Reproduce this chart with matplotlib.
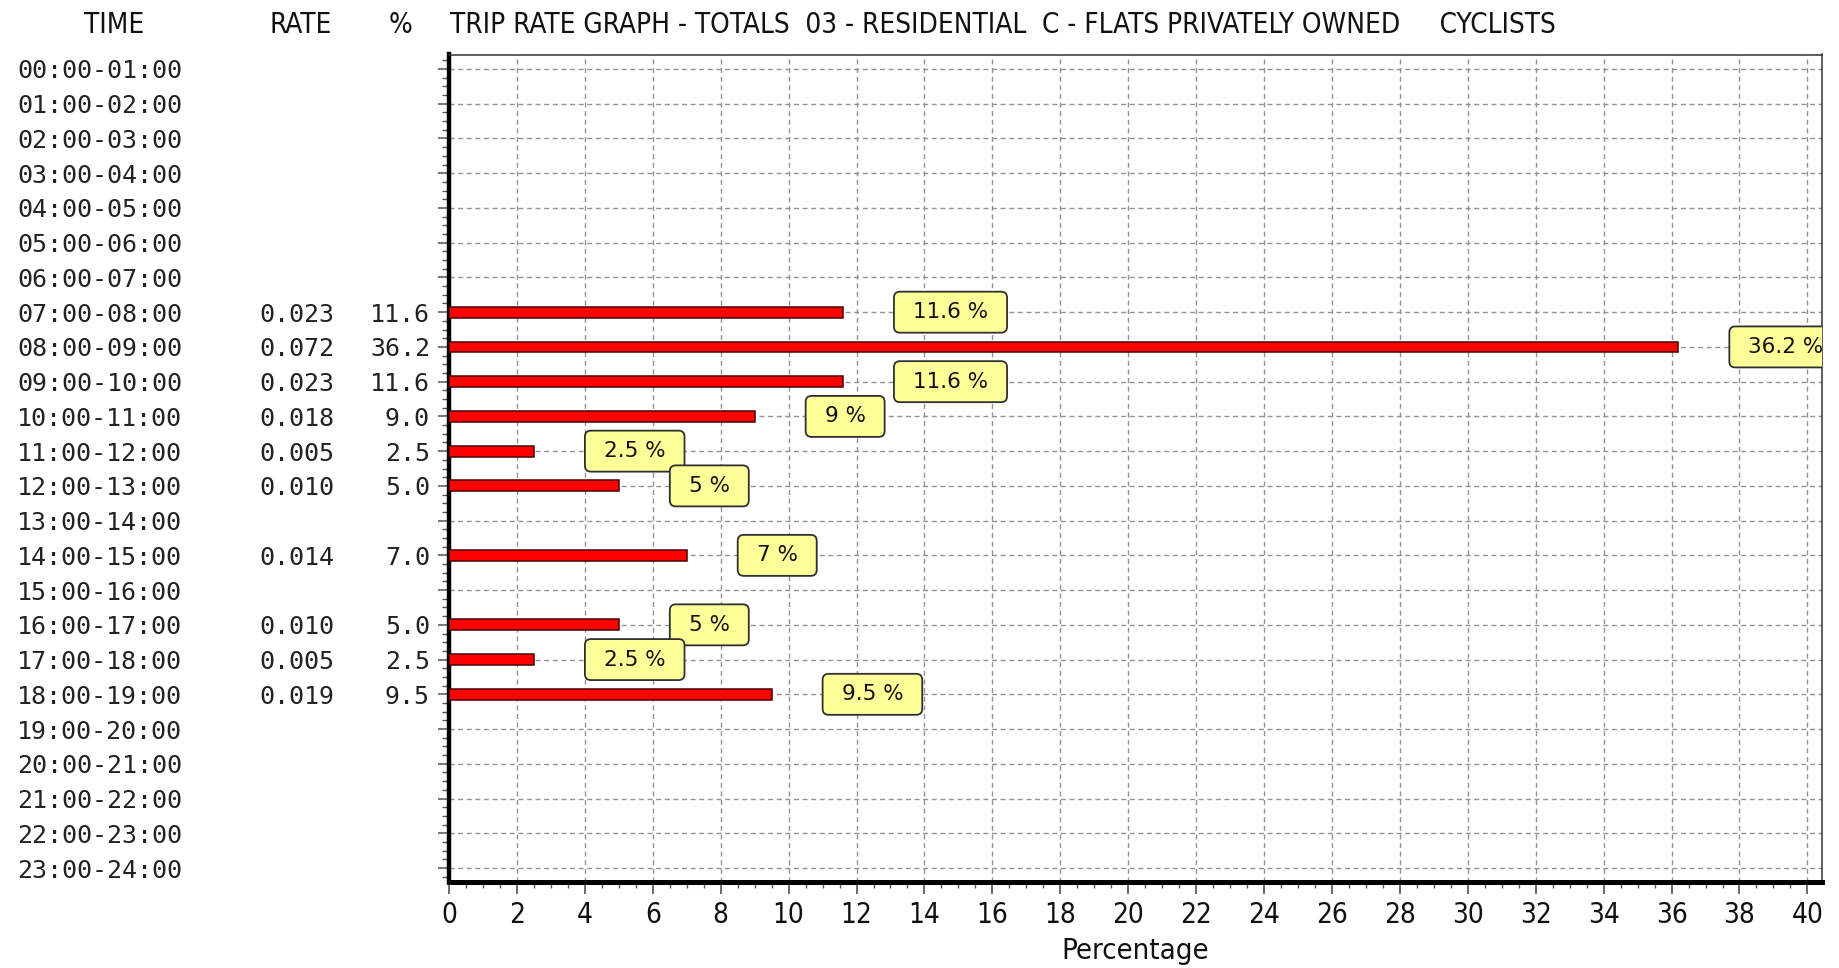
import matplotlib
matplotlib.use("Agg")
import matplotlib.pyplot as plt
from matplotlib import font_manager
from matplotlib.patches import FancyBboxPatch
from matplotlib.transforms import IdentityTransform, ScaledTranslation, blended_transform_factory
from matplotlib.ticker import MultipleLocator

# ---------------- data ----------------
time_labels = ["00:00-01:00", "01:00-02:00", "02:00-03:00", "03:00-04:00",
               "04:00-05:00", "05:00-06:00", "06:00-07:00", "07:00-08:00",
               "08:00-09:00", "09:00-10:00", "10:00-11:00", "11:00-12:00",
               "12:00-13:00", "13:00-14:00", "14:00-15:00", "15:00-16:00",
               "16:00-17:00", "17:00-18:00", "18:00-19:00", "19:00-20:00",
               "20:00-21:00", "21:00-22:00", "22:00-23:00", "23:00-24:00"]
rates = [None, None, None, None, None, None, None, 0.023,
         0.072, 0.023, 0.018, 0.005, 0.010, None, 0.014, None,
         0.010, 0.005, 0.019, None, None, None, None, None]
percents = [None, None, None, None, None, None, None, 11.6,
            36.2, 11.6, 9.0, 2.5, 5.0, None, 7.0, None,
            5.0, 2.5, 9.5, None, None, None, None, None]
header_time = "TIME"
header_rate = "RATE"
header_pct = "%"
title_text = "TRIP RATE GRAPH - TOTALS  03 - RESIDENTIAL  C - FLATS PRIVATELY OWNED     CYCLISTS"
x_label = "Percentage"
x_max_tick = 40

# ---------------- fonts ----------------
def has_font(name):
    try:
        font_manager.findfont(font_manager.FontProperties(family=name), fallback_to_default=False)
        return True
    except Exception:
        return False

if has_font("Liberation Sans Narrow"):
    narrow = dict(family=["Liberation Sans Narrow", "DejaVu Sans"])
else:
    narrow = dict(family=["DejaVu Sans"], stretch="condensed")
mono = dict(family=["DejaVu Sans Mono"])
box_font = dict(family=["DejaVu Sans"])

W, H, DPI = 1839, 968, 100
fig = plt.figure(figsize=(W / DPI, H / DPI), dpi=DPI)
fig.patch.set_facecolor("white")

ax_l, ax_r, ax_t, ax_b = 449.0, 1821.7, 54.5, 882.0
ax = fig.add_axes([ax_l / W, 1 - ax_b / H, (ax_r - ax_l) / W, (ax_b - ax_t) / H])

px_per_unit = 33.96
row0_px, row_step = 69.0, 34.74
xmax = (ax_r - ax_l) / px_per_unit
ymin = -(row0_px - ax_t) / row_step
ymax = (ax_b - row0_px) / row_step
ax.set_xlim(0, xmax)
ax.set_ylim(ymax, ymin)

rows = list(range(len(time_labels)))
bar_rows = [r for r, p in zip(rows, percents) if p is not None]
bar_vals = [p for p in percents if p is not None]

ax.barh(bar_rows, bar_vals, height=0.31, left=0, color="#ff0000",
        edgecolor="#4a0000", linewidth=1.1, zorder=3)

# grid
ax.set_axisbelow(True)
ax.set_xticks(range(0, x_max_tick + 1, 2))
ax.set_yticks(rows)
ax.xaxis.set_minor_locator(MultipleLocator(0.5))
ax.yaxis.set_minor_locator(MultipleLocator(0.25))
ax.grid(True, which="major", color="#939393", linestyle=(0, (3.6, 2.6)), linewidth=1.0)
ax.set_yticklabels([])
ax.tick_params(axis="y", which="major", direction="out", length=8, width=1.1, color="#555555")
ax.tick_params(axis="y", which="minor", direction="out", length=5, width=1.0, color="#555555")
ax.tick_params(axis="x", which="major", direction="out", length=8.5, width=1.1, color="#444444",
               labelsize=20, pad=5.5, labelcolor="#111111")
ax.tick_params(axis="x", which="minor", direction="out", length=4.5, width=1.0, color="#555555")
for lab in ax.get_xticklabels():
    lab.set_fontfamily(narrow["family"])
    if "stretch" in narrow:
        lab.set_fontstretch(narrow["stretch"])

for side in ("top", "right"):
    ax.spines[side].set_linewidth(1.1)
    ax.spines[side].set_color("#333333")
ax.spines["left"].set_linewidth(3.2)
ax.spines["left"].set_color("black")
ax.spines["bottom"].set_linewidth(3.6)
ax.spines["bottom"].set_color("black")

ax.set_xlabel(x_label, fontsize=21, color="#111111", **narrow)
ax.xaxis.set_label_coords(0.5, -0.067)

# headers
hy = 1 - 25.0 / H
fig.text(114.5 / W, hy, header_time, ha="center", va="center", fontsize=20, color="#111111", **narrow)
fig.text(301.0 / W, hy, header_rate, ha="center", va="center", fontsize=20, color="#111111", **narrow)
fig.text(401.0 / W, hy, header_pct, ha="center", va="center", fontsize=20, color="#111111", **narrow)
fig.text(450.0 / W, hy, title_text, ha="left", va="center", fontsize=20, color="#111111", **narrow)

# row labels
trans = blended_transform_factory(fig.transFigure, ax.transData)
for r, lab, rt, pc in zip(rows, time_labels, rates, percents):
    fig.text(17.0 / W, r, lab, transform=trans, ha="left", va="center_baseline",
             fontsize=18, color="#222222", **mono)
    if rt is not None:
        fig.text(259.0 / W, r, f"{rt:.3f}", transform=trans, ha="left", va="center_baseline",
                 fontsize=18, color="#222222", **mono)
    if pc is not None:
        fig.text(430.0 / W, r, f"{pc:.1f}", transform=trans, ha="right", va="center_baseline",
                 fontsize=18, color="#222222", **mono)

# value boxes
gap_px, hpad_px, box_h = 51.0, 19.0, 41.0
renderer = fig.canvas.get_renderer()
for r, v in zip(bar_rows, bar_vals):
    off = ScaledTranslation((gap_px + hpad_px) / DPI, 0, fig.dpi_scale_trans)
    t = ax.text(v, r, f"{v:g} %", transform=ax.transData + off, ha="left", va="center",
                fontsize=15.5, color="#111111", zorder=6, clip_on=False, **box_font)
    ext = t.get_window_extent(renderer)
    ypix = ax.transData.transform((v, r))[1]
    x0 = ext.x0 - hpad_px
    box = FancyBboxPatch((x0, ypix - box_h / 2), ext.width + 2 * hpad_px, box_h,
                         boxstyle="round,pad=0,rounding_size=6",
                         transform=IdentityTransform(), facecolor="#ffff99",
                         edgecolor="#303030", linewidth=1.3, zorder=5)
    ax.add_patch(box)
    box.set_clip_box(ax.bbox)
    box.set_clip_on(True)

ax.set_xlim(0, xmax)
ax.set_ylim(ymax, ymin)

fig.savefig("out.png", dpi=DPI, facecolor="white")
